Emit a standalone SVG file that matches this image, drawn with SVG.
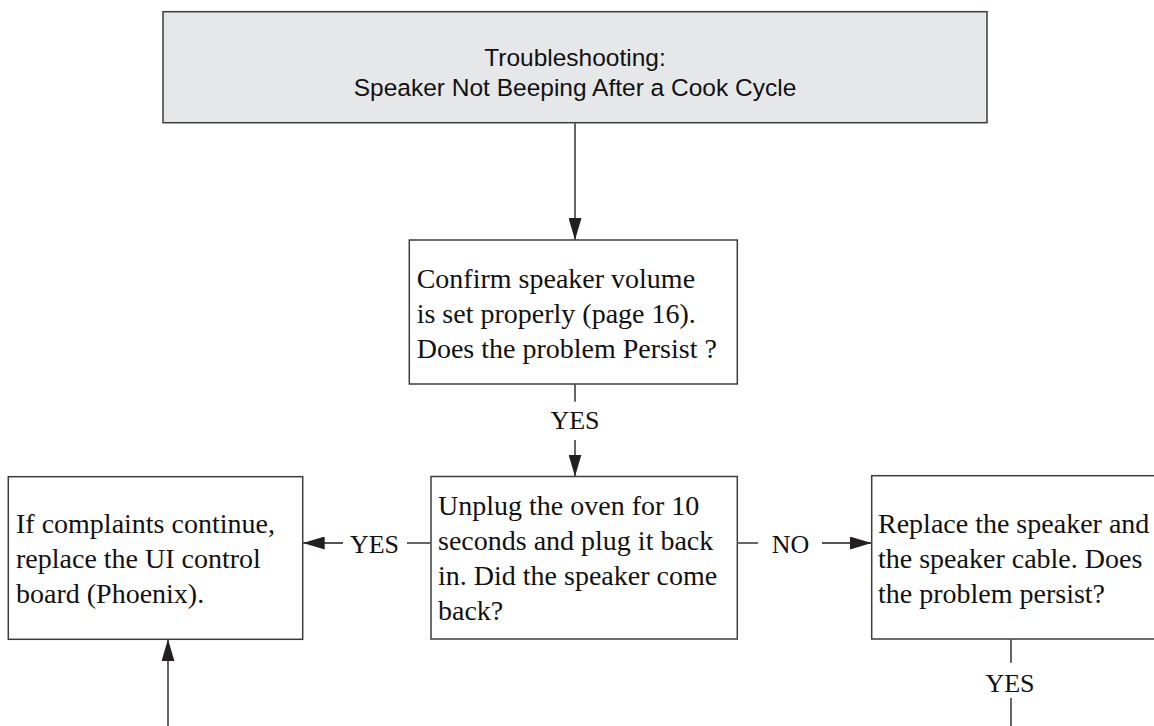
<svg xmlns="http://www.w3.org/2000/svg" width="1154" height="726" viewBox="0 0 1154 726">
<style>
.box{fill:#fff;stroke:#3c3c3c;stroke-width:1.5}
.hdr{fill:#e6e7e8;stroke:#3c3c3c;stroke-width:1.5}
.ht{font-family:"Liberation Sans",Arial,sans-serif;font-size:24.5px;fill:#111;text-anchor:middle}
.t{font-family:"Liberation Serif","Times New Roman",serif;font-size:28px;fill:#111}
.lbl{font-family:"Liberation Serif","Times New Roman",serif;font-size:26px;fill:#111;text-anchor:middle}
.c{stroke:#555;stroke-width:1.8;fill:none}
</style>
<defs>
<marker id="ah" viewBox="0 0 22 13" refX="22" refY="6.5" markerWidth="22" markerHeight="13" markerUnits="userSpaceOnUse" orient="auto">
<path d="M0,0 L22,6.5 L0,13 z" fill="#231f20"/>
</marker>
</defs>
<g id="header">
<rect class="hdr" x="163" y="11.7" width="824" height="111"/>
<text class="ht" x="575" y="66">Troubleshooting:</text>
<text class="ht" x="575" y="96">Speaker Not Beeping After a Cook Cycle</text>
</g>
<g id="confirm">
<rect class="box" x="409.3" y="240" width="328" height="144"/>
<text class="t" x="416.7" y="288">Confirm speaker volume</text>
<text class="t" x="416.7" y="323">is set properly (page 16).</text>
<text class="t" x="416.7" y="358">Does the problem Persist ?</text>
</g>
<g id="unplug">
<rect class="box" x="431" y="476.5" width="306.3" height="162.5"/>
<text class="t" x="438" y="515">Unplug the oven for 10</text>
<text class="t" x="438" y="550">seconds and plug it back</text>
<text class="t" x="438" y="585">in. Did the speaker come</text>
<text class="t" x="438" y="620">back?</text>
</g>
<g id="replaceUI">
<rect class="box" x="8.3" y="476.7" width="294.4" height="162.6"/>
<text class="t" x="16" y="533">If complaints continue,</text>
<text class="t" x="16" y="568">replace the UI control</text>
<text class="t" x="16" y="603">board (Phoenix).</text>
</g>
<g id="replaceSpeaker">
<rect class="box" x="871.7" y="475.7" width="300" height="163.3"/>
<text class="t" x="878" y="533">Replace the speaker and</text>
<text class="t" x="878" y="568">the speaker cable. Does</text>
<text class="t" x="878" y="603">the problem persist?</text>
</g>
<g id="connectors">
<line class="c" x1="575" y1="122.7" x2="575" y2="240" marker-end="url(#ah)"/>
<line class="c" x1="575" y1="384" x2="575" y2="401.7"/>
<text class="lbl" x="575" y="429.3">YES</text>
<line class="c" x1="575" y1="440" x2="575" y2="476.5" marker-end="url(#ah)"/>
<line class="c" x1="431" y1="543" x2="407" y2="543"/>
<text class="lbl" x="374.5" y="552.7">YES</text>
<line class="c" x1="343" y1="543" x2="302.7" y2="543" marker-end="url(#ah)"/>
<line class="c" x1="737.3" y1="543" x2="758" y2="543"/>
<text class="lbl" x="790.5" y="553">NO</text>
<line class="c" x1="822" y1="543" x2="871.7" y2="543" marker-end="url(#ah)"/>
<line class="c" x1="1011" y1="639" x2="1011" y2="662.7"/>
<text class="lbl" x="1010" y="691.7">YES</text>
<line class="c" x1="1011" y1="698" x2="1011" y2="726"/>
<line class="c" x1="168" y1="726" x2="168" y2="639.3" marker-end="url(#ah)"/>
</g>
</svg>
